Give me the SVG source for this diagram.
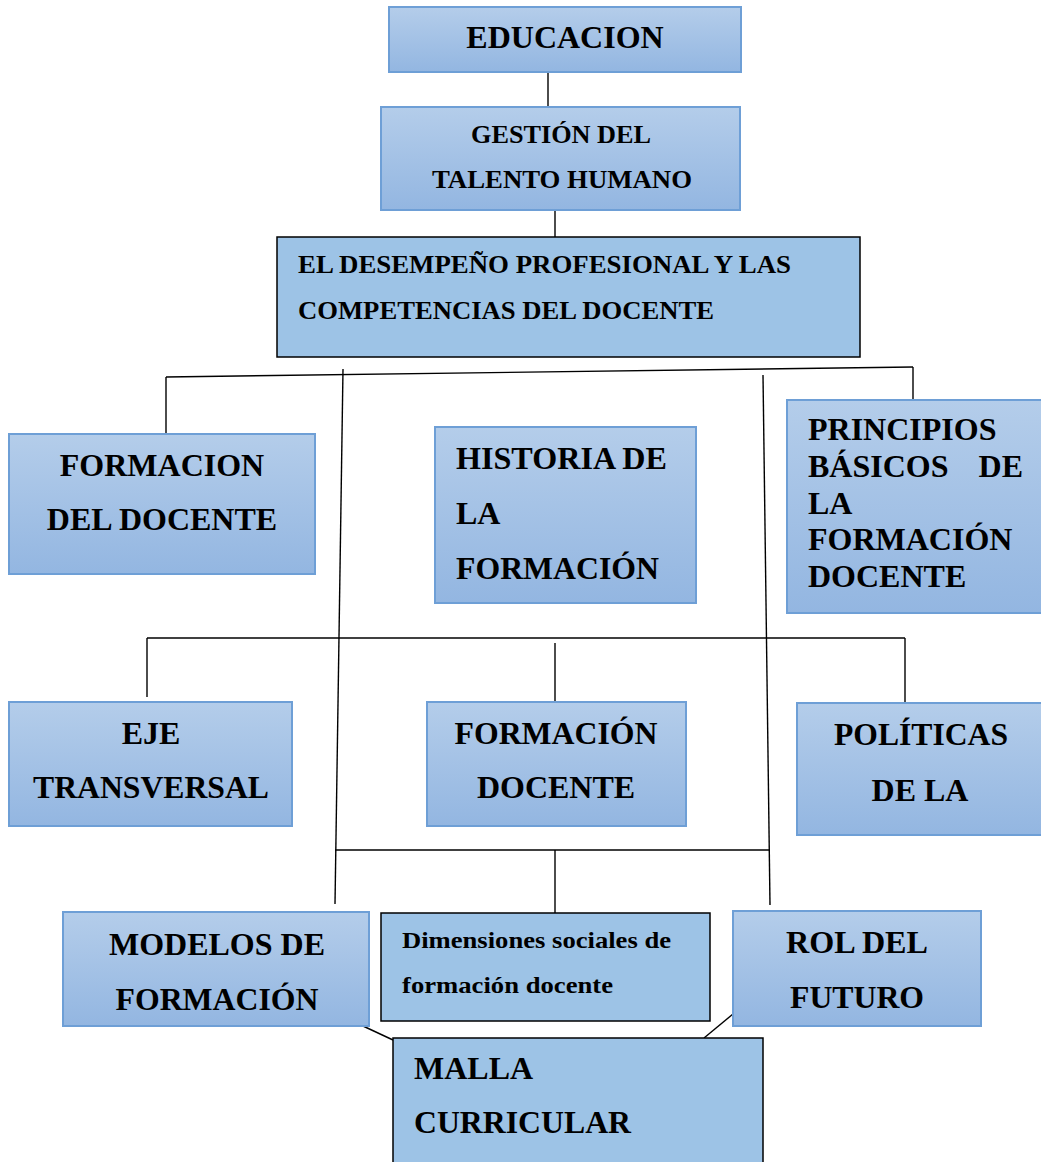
<svg xmlns="http://www.w3.org/2000/svg" width="1041" height="1162" viewBox="0 0 1041 1162">
<defs>
<linearGradient id="g" x1="0" y1="0" x2="0" y2="1">
<stop offset="0" stop-color="#b4cdea"/>
<stop offset="1" stop-color="#93b6e1"/>
</linearGradient>
<style>
.gb{fill:url(#g);stroke:#6e9fd6;stroke-width:2}
.sb{fill:#9dc3e6;stroke:#000;stroke-width:1.5}
.t{font-family:"Liberation Serif","Times New Roman",serif;font-weight:bold;fill:#000}
.c{text-anchor:middle}
.ln{stroke:#000;stroke-width:1.4;fill:none}
</style>
</defs>
<rect width="1041" height="1162" fill="#fff"/>
<g id="connectors">
<line class="ln" x1="548" y1="72" x2="548" y2="107" stroke="#444"/>
<line class="ln" x1="555" y1="210" x2="555" y2="237"/>
<line class="ln" x1="166" y1="377" x2="913" y2="367"/>
<line class="ln" x1="166" y1="377" x2="166" y2="433"/>
<line class="ln" x1="913" y1="367" x2="913" y2="400"/>
<line class="ln" x1="343" y1="369" x2="335" y2="904"/>
<line class="ln" x1="763" y1="375" x2="770" y2="905"/>
<line class="ln" x1="147" y1="638" x2="905" y2="638"/>
<line class="ln" x1="147" y1="638" x2="147" y2="697"/>
<line class="ln" x1="555" y1="643" x2="555" y2="707"/>
<line class="ln" x1="905" y1="638" x2="905" y2="712"/>
<line class="ln" x1="335" y1="850" x2="770" y2="850"/>
<line class="ln" x1="555" y1="850" x2="555" y2="915"/>
<line class="ln" x1="363" y1="1026" x2="393" y2="1040"/>
<line class="ln" x1="733" y1="1014" x2="704" y2="1038"/>
</g>
<g id="educacion">
<rect class="gb" x="389" y="7" width="352" height="65"/>
<text class="t c" x="565" y="48" font-size="32">EDUCACION</text>
</g>
<g id="gestion">
<rect class="gb" x="381" y="107" width="359" height="103"/>
<text class="t c" x="561" y="143" font-size="26" textLength="180" lengthAdjust="spacingAndGlyphs">GESTIÓN DEL</text>
<text class="t c" x="562" y="188" font-size="26" textLength="260" lengthAdjust="spacingAndGlyphs">TALENTO HUMANO</text>
</g>
<g id="desempeno">
<rect class="sb" x="277" y="237" width="583" height="120"/>
<text class="t" x="298" y="273" font-size="26" textLength="493" lengthAdjust="spacingAndGlyphs">EL DESEMPEÑO PROFESIONAL Y LAS</text>
<text class="t" x="298" y="319" font-size="26" textLength="416" lengthAdjust="spacingAndGlyphs">COMPETENCIAS DEL DOCENTE</text>
</g>
<g id="formacion-del-docente">
<rect class="gb" x="9" y="434" width="306" height="140"/>
<text class="t c" x="162" y="476" font-size="32">FORMACION</text>
<text class="t c" x="162" y="530" font-size="32">DEL DOCENTE</text>
</g>
<g id="historia">
<rect class="gb" x="435" y="427" width="261" height="176"/>
<text class="t" x="456" y="469" font-size="32" textLength="211" lengthAdjust="spacingAndGlyphs">HISTORIA DE</text>
<text class="t" x="456" y="524" font-size="32">LA</text>
<text class="t" x="456" y="579" font-size="32" textLength="203" lengthAdjust="spacingAndGlyphs">FORMACIÓN</text>
</g>
<g id="principios">
<rect class="gb" x="787" y="400" width="256" height="213"/>
<text class="t" x="808" y="440" font-size="32">PRINCIPIOS</text>
<text class="t" x="808" y="477" font-size="32">BÁSICOS</text>
<text class="t" x="1023" y="477" font-size="32" text-anchor="end">DE</text>
<text class="t" x="808" y="514" font-size="32">LA</text>
<text class="t" x="808" y="550" font-size="32">FORMACIÓN</text>
<text class="t" x="808" y="587" font-size="32">DOCENTE</text>
</g>
<g id="eje">
<rect class="gb" x="9" y="702" width="283" height="124"/>
<text class="t c" x="151" y="744" font-size="32">EJE</text>
<text class="t c" x="151" y="798" font-size="32" textLength="236" lengthAdjust="spacingAndGlyphs">TRANSVERSAL</text>
</g>
<g id="formacion-docente">
<rect class="gb" x="427" y="702" width="259" height="124"/>
<text class="t c" x="556" y="744" font-size="32" textLength="203" lengthAdjust="spacingAndGlyphs">FORMACIÓN</text>
<text class="t c" x="556" y="798" font-size="32">DOCENTE</text>
</g>
<g id="politicas">
<rect class="gb" x="797" y="703" width="246" height="132"/>
<text class="t c" x="921" y="745" font-size="32" textLength="174" lengthAdjust="spacingAndGlyphs">POLÍTICAS</text>
<text class="t c" x="920" y="801" font-size="32">DE LA</text>
</g>
<g id="modelos">
<rect class="gb" x="63" y="912" width="306" height="114"/>
<text class="t c" x="217" y="955" font-size="32" textLength="216" lengthAdjust="spacingAndGlyphs">MODELOS DE</text>
<text class="t c" x="217" y="1010" font-size="32" textLength="203" lengthAdjust="spacingAndGlyphs">FORMACIÓN</text>
</g>
<g id="dimensiones">
<rect class="sb" x="381" y="913" width="329" height="108"/>
<text class="t" x="402" y="948" font-size="24" textLength="269" lengthAdjust="spacingAndGlyphs">Dimensiones sociales de</text>
<text class="t" x="402" y="993" font-size="24" textLength="211" lengthAdjust="spacingAndGlyphs">formación docente</text>
</g>
<g id="rol">
<rect class="gb" x="733" y="911" width="248" height="115"/>
<text class="t c" x="857" y="953" font-size="32" textLength="142" lengthAdjust="spacingAndGlyphs">ROL DEL</text>
<text class="t c" x="857" y="1008" font-size="32" textLength="134" lengthAdjust="spacingAndGlyphs">FUTURO</text>
</g>
<g id="malla">
<rect class="sb" x="393" y="1038" width="370" height="130"/>
<text class="t" x="414" y="1079" font-size="32">MALLA</text>
<text class="t" x="414" y="1133" font-size="32" textLength="217" lengthAdjust="spacingAndGlyphs">CURRICULAR</text>
</g>
</svg>
